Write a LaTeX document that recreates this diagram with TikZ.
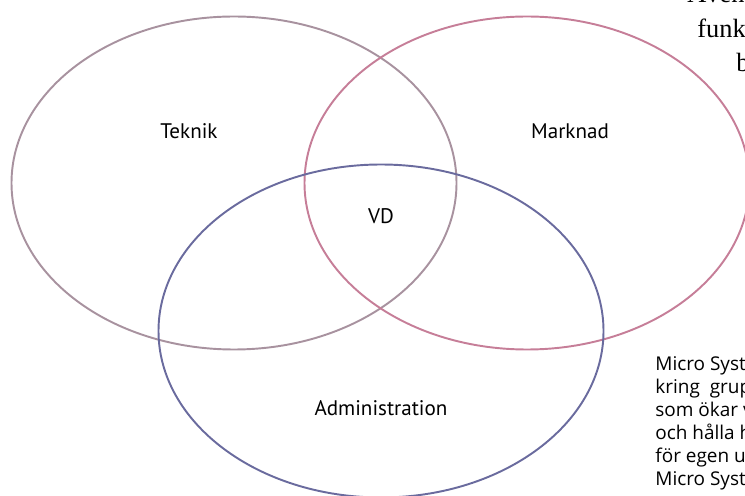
\documentclass[tikz,border=0pt]{standalone}
\usepackage{fontspec}
\setmainfont{PT Sans}
\newfontfamily\bookfont{Liberation Serif}
\newfontfamily\sidefont{Open Sans}
\usetikzlibrary{shapes.geometric}
\definecolor{teknikcol}{HTML}{A8929F}
\definecolor{marknadcol}{HTML}{C67E98}
\definecolor{admincol}{HTML}{6A6B9E}
\begin{document}
\begin{tikzpicture}[
			area/.style={ellipse,draw,line width=1.1pt,minimum width=8.9cm,minimum height=6.66cm,inner sep=0pt},
			label/.style={font=\fontsize{12}{14}\selectfont},
			booktext/.style={anchor=base west,inner sep=0pt,font=\bookfont\fontsize{15}{17}\selectfont},
			sidetext/.style={anchor=base west,inner sep=0pt,font=\sidefont\fontsize{10.8}{13}\selectfont},
			]
			\useasboundingbox (0,0) rectangle (14.9,9.9);
			\clip (0,0) rectangle (14.9,9.9);
			\node [area,draw=teknikcol] (teknik) at (4.68,6.24) {};
			\node [area,draw=marknadcol] (marknad) at (10.54,6.24) {};
			\node [area,draw=admincol] (admin) at (7.62,3.28) {};
			\node [label] (teknikname) at (3.78,7.28) {Teknik};
			\node [label] (marknadname) at (11.40,7.28) {Marknad};
			\node [label] (vd) at (7.62,5.58) {VD};
			\node [label] (adminname) at (7.62,1.74) {Administration};
			% page text cut at the right border
			\node [booktext] (top1) at (13.74,9.84) {Även};
			\node [booktext] (top2) at (13.94,9.14) {funk};
			\node [booktext] (top3) at (14.72,8.46) {b};
			\node [sidetext] (side1) at (13.1,2.5) {Micro Syst};
			\node [sidetext] (side2) at (13.1,2.04) {kring\ \ grup};
			\node [sidetext] (side3) at (13.1,1.58) {som ökar v};
			\node [sidetext] (side4) at (13.1,1.12) {och hålla h};
			\node [sidetext] (side5) at (13.1,0.66) {för egen u};
			\node [sidetext] (side6) at (13.1,0.20) {Micro Syst};
		\end{tikzpicture}
\end{document}
